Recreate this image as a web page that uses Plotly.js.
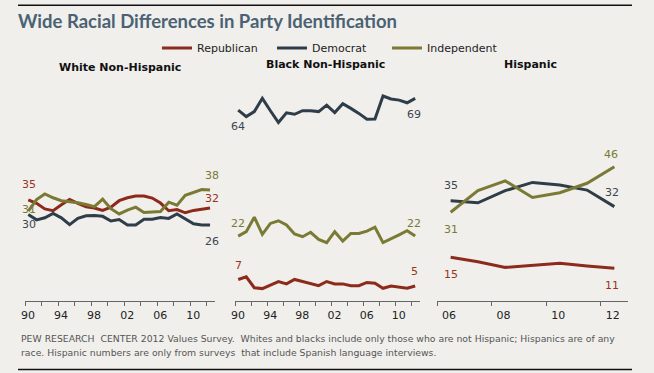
<!DOCTYPE html>
<html>
<head>
<meta charset="utf-8">
<script src="https://cdn.plot.ly/plotly-3.0.1.min.js"></script>
<style>html,body{margin:0;padding:0;background:#f0efec;}#chart{width:654px;height:373px;}</style>
</head>
<body>
<div id="chart"></div>
<script>
// ---- Data ----
var seriesNames = ["Republican", "Democrat", "Independent"];
var panelTitles = ["White Non-Hispanic", "Black Non-Hispanic", "Hispanic"];

var whiteYears = [1990.4,1991.4,1992.4,1993.4,1994.4,1995.4,1996.4,1997.4,1998.4,1999.4,2000.4,2001.4,2002.4,2003.4,2004.4,2005.4,2006.4,2007.4,2008.4,2009.4,2010.4,2011.4,2012.4];
var whiteRep = [34.3,33.1,31.2,30.6,32.6,34.4,33.1,31.9,31.5,30.7,31.8,34.0,35.0,35.6,35.6,34.9,33.2,30.6,31.0,29.9,30.7,31.0,31.5];
var whiteDem = [29.3,27.5,28.2,29.7,28.2,25.9,28.0,28.9,29.0,28.7,27.1,27.6,25.8,25.8,27.7,27.7,28.3,28.0,29.5,27.9,26.2,25.8,25.8];
var whiteInd = [30.5,34.4,36.3,35.0,34.0,33.7,33.3,32.7,32.0,34.5,31.3,29.5,30.8,31.8,30.0,30.2,30.3,33.5,32.5,35.8,36.7,37.8,37.6];

var blackYears = [1990.4,1991.4,1992.4,1993.4,1994.4,1995.4,1996.4,1997.4,1998.4,1999.4,2000.4,2001.4,2002.4,2003.4,2004.4,2005.4,2006.4,2007.4,2008.4,2009.4,2010.4,2011.4,2012.4];
var blackRep = [7.3,8.2,4.5,4.2,5.4,6.6,5.8,7.3,6.6,6.0,5.2,6.6,5.8,5.8,5.2,5.2,6.3,6.0,4.3,5.1,4.6,4.3,5.1];
var blackDem = [64.7,62.5,64.2,68.7,64.5,60.5,63.8,63.3,64.5,64.5,64.2,66.4,63.9,66.9,65.3,63.6,61.6,61.7,69.5,68.5,68.1,67.2,68.7];
var blackInd = [22.0,23.5,28.4,22.6,26.3,27.2,25.8,22.7,21.8,23.3,20.9,19.8,23.5,20.3,22.9,22.9,23.7,25.0,19.8,21.0,22.4,23.8,22.0];

var hispYears = [2006,2007,2008,2009,2010,2011,2012];
var hispRep = [14.8,13.3,11.4,12.2,12.8,11.9,11.1];
var hispDem = [34.0,33.3,37.4,40.2,39.3,37.6,32.0];
var hispInd = [30.1,37.4,40.7,35.1,36.7,39.9,45.5];

// labels shown at line ends: [start, end] per series (Rep, Dem, Ind)
var whiteLabels = [["35","32"],["30","26"],["31","38"]];
var blackLabels = [["7","5"],["64","69"],["22","22"]];
var hispLabels  = [["15","11"],["35","32"],["31","46"]];

var longTickVals = [1990,1992,1994,1996,1998,2000,2002,2004,2006,2008,2010,2012];
var longTickText = ["90","","94","","98","","02","","06","","10",""];
var hispTickVals = [2005.5,2007.5,2009.5,2011.5];
var hispTickText = ["06","08","10","12"];

var footnote1 = "PEW RESEARCH  CENTER 2012 Values Survey.  Whites and blacks include only those who are not Hispanic; Hispanics are of any";
var footnote2 = "race. Hispanic numbers are only from surveys  that include Spanish language interviews.";
var chartTitle = "Wide Racial Differences in Party Identification";

// ---- Styles ----
var lineColors = ["#8c2a1b", "#2f3d49", "#7a7a34"];
var labelColors = ["#9a3322", "#3a4651", "#7a7a34"];
var W = 654, H = 373;
function fx(px){ return px / W; }
function fy(py){ return (H - py) / H; }

var panels = [
  {years: whiteYears, vals: [whiteRep, whiteDem, whiteInd], labels: whiteLabels, xa: "x"},
  {years: blackYears, vals: [blackRep, blackDem, blackInd], labels: blackLabels, xa: "x2"},
  {years: hispYears,  vals: [hispRep, hispDem, hispInd],   labels: hispLabels,  xa: "x3"}
];
// label offsets in px [xshift, yshift] for [start,end] of each series per panel
var offsets = [
  [[[1,15],[2,10]], [[1,-10],[2,-17]], [[1,2],[2,15]]],
  [[[0,14],[-1,14]], [[0,-16],[-1,-16]], [[0,13],[-1,13]]],
  [[[0,-17],[-2,-17]], [[0,15],[-2,14]], [[0,-17],[-3,12]]]
];

var traces = [];
var annotations = [];
panels.forEach(function(p, pi){
  p.vals.forEach(function(v, si){
    traces.push({
      type: "scatter", mode: "lines",
      x: p.years, y: v,
      xaxis: p.xa, yaxis: "y",
      name: seriesNames[si],
      legendgroup: seriesNames[si],
      showlegend: pi === 0,
      line: {color: lineColors[si], width: 3},
      hoverinfo: "skip"
    });
    [0, 1].forEach(function(k){
      var idx = k === 0 ? 0 : v.length - 1;
      annotations.push({
        xref: p.xa, yref: "y", x: p.years[idx], y: v[idx],
        text: p.labels[si][k], showarrow: false,
        xshift: offsets[pi][si][k][0], yshift: offsets[pi][si][k][1],
        font: {family: "DejaVu Sans", size: 11, color: labelColors[si]}
      });
    });
  });
});

// panel titles
var subPos = [[120, 67], [325, 64], [530, 64]];
panelTitles.forEach(function(t, i){
  annotations.push({
    xref: "paper", yref: "paper", x: fx(subPos[i][0]), y: fy(subPos[i][1]),
    xanchor: "center", yanchor: "middle", showarrow: false, text: "<b>" + t + "</b>",
    font: {family: "DejaVu Sans", size: 11, color: "#111"}
  });
});
// footnotes
[[footnote1, 338], [footnote2, 352.5]].forEach(function(f){
  annotations.push({
    xref: "paper", yref: "paper", x: fx(19), y: fy(f[1]),
    xanchor: "left", yanchor: "middle", showarrow: false, text: f[0],
    font: {family: "DejaVu Sans", size: 9.3, color: "#555"}
  });
});

var yTop = 88.6, yBot = 301;
var commonX = {
  showgrid: false, zeroline: false, showline: true, linecolor: "#666", linewidth: 1,
  ticks: "outside", ticklen: 4, tickcolor: "#666", tickwidth: 1,
  tickfont: {family: "DejaVu Sans", size: 11, color: "#222"},
  tickmode: "array", fixedrange: true, anchor: "y"
};
function xAxis(dom, range, tv, tt, shift){
  var a = JSON.parse(JSON.stringify(commonX));
  a.domain = dom; a.range = range; a.tickvals = tv; a.ticktext = tt; a.ticklabelshift = shift;
  return a;
}

var layout = {
  width: W, height: H,
  margin: {l: 0, r: 0, t: 0, b: 0, pad: 0},
  paper_bgcolor: "#f0efec", plot_bgcolor: "#f0efec",
  title: {text: "<b>" + chartTitle + "</b>", x: fx(18), xanchor: "left", y: fy(21.5), yanchor: "middle",
          font: {family: "Lato", size: 18.5, color: "#4a6273"}},
  showlegend: true,
  legend: {orientation: "h", x: fx(157), xanchor: "left", y: fy(48), yanchor: "middle",
           bgcolor: "rgba(0,0,0,0)", font: {family: "DejaVu Sans", size: 11, color: "#222"},
           itemwidth: 30, entrywidth: 70, traceorder: "normal"},
  xaxis:  xAxis([fx(25), fx(215)], [1990, 2013], longTickVals, longTickText, 3),
  xaxis2: xAxis([fx(235), fx(420)], [1990, 2013], longTickVals, longTickText, 3),
  xaxis3: xAxis([fx(437), fx(628)], [2005.5, 2012.5], hispTickVals, hispTickText, 12),
  yaxis: {domain: [fy(yBot), fy(yTop)], range: [0, 72], visible: false, fixedrange: true},
  annotations: annotations,
  shapes: [
    {type: "line", xref: "paper", yref: "paper", x0: fx(18), x1: fx(632), y0: fy(5.3), y1: fy(5.3), line: {color: "#111", width: 1.5}},
    {type: "line", xref: "paper", yref: "paper", x0: fx(18), x1: fx(632), y0: fy(369.5), y1: fy(369.5), line: {color: "#111", width: 1.5}}
  ],
  hovermode: false
};

Plotly.newPlot("chart", traces, layout, {displayModeBar: false, staticPlot: true});
</script>
</body>
</html>
